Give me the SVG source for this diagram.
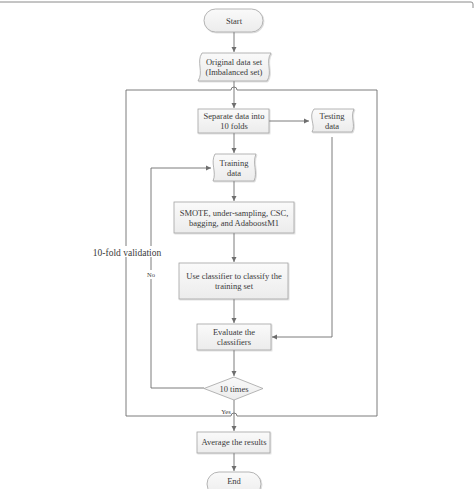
<svg xmlns="http://www.w3.org/2000/svg" width="475" height="489" viewBox="0 0 475 489">
<style>
.shape{fill:url(#g);stroke:#a3a3a3;stroke-width:0.8}
.ln{fill:none;stroke:#6e6e6e;stroke-width:0.9}
.t{font-family:"Liberation Serif","Times New Roman",serif;font-size:8.5px;fill:#3a3a3a;text-anchor:middle}
.sm{font-size:6.5px}
.lg{font-size:9.5px}
</style>
<defs>
<linearGradient id="g" x1="0" y1="0" x2="0" y2="1">
<stop offset="0" stop-color="#fafafa"/>
<stop offset="1" stop-color="#ececec"/>
</linearGradient>
<filter id="sh" x="-10%" y="-10%" width="130%" height="140%">
<feDropShadow dx="0.8" dy="0.8" stdDeviation="0.6" flood-color="#000" flood-opacity="0.18"/>
</filter>
<marker id="ah" markerWidth="6" markerHeight="6" refX="5" refY="3" orient="auto" markerUnits="userSpaceOnUse">
<path d="M0,0.5 L5,3 L0,5.5 z" fill="#6e6e6e"/>
</marker>
</defs>
<rect width="475" height="489" fill="#fff"/>
<path d="M0,2 H471 Q473,2 473,4 V8" fill="none" stroke="#8a8a8a" stroke-width="1"/>

<g id="connectors">
<path class="ln" d="M126,90 H231 A3,3 0 0 1 237,90 H377 V416 H237 A3,3 0 0 0 231,416 H126 Z"/>
<path class="ln" d="M234,32 V52" marker-end="url(#ah)"/>
<path class="ln" d="M234,81 V108" marker-end="url(#ah)"/>
<path class="ln" d="M269,121 H309" marker-end="url(#ah)"/>
<path class="ln" d="M234,133 V153" marker-end="url(#ah)"/>
<path class="ln" d="M234,181 V201" marker-end="url(#ah)"/>
<path class="ln" d="M234,233 V262" marker-end="url(#ah)"/>
<path class="ln" d="M234,299 V323" marker-end="url(#ah)"/>
<path class="ln" d="M332,137 V337 H272" marker-end="url(#ah)"/>
<path class="ln" d="M234,350 V376" marker-end="url(#ah)"/>
<path class="ln" d="M204,388 H151 V168 H211" marker-end="url(#ah)"/>
<path class="ln" d="M234,400 V431" marker-end="url(#ah)"/>
<path class="ln" d="M234,453 V471" marker-end="url(#ah)"/>
<rect x="144" y="270" width="14" height="9" fill="#fff"/>
<text class="t sm" x="151" y="277">No</text>
<rect x="95" y="246" width="64" height="11" fill="#fff"/>
<text class="t lg" x="127" y="256">10-fold validation</text>
<text class="t sm" x="226" y="414">Yes</text>
</g>

<g id="start">
<rect class="shape" x="204" y="9" width="59" height="23" rx="11.5" filter="url(#sh)"/>
<text class="t" x="234" y="24">Start</text>
</g>

<g id="original">
<path class="shape" filter="url(#sh)" d="M202,53 H271 C265,62 273,72 267,81 H198 C204,72 196,62 202,53 Z"/>
<text class="t" x="234" y="65">Original data set</text>
<text class="t" x="234" y="75">(Imbalanced set)</text>
</g>

<g id="separate">
<rect class="shape" x="198" y="109" width="71" height="24" filter="url(#sh)"/>
<text class="t" x="234" y="119">Separate data into</text>
<text class="t" x="234" y="129">10 folds</text>
</g>

<g id="testing">
<path class="shape" filter="url(#sh)" d="M314,109 H354 C350,117 356,125 352,132 H312 C316,125 308,117 314,109 Z"/>
<text class="t" x="332" y="119">Testing</text>
<text class="t" x="332" y="129">data</text>
</g>

<g id="training">
<path class="shape" filter="url(#sh)" d="M215,154 H256 C252,163 258,172 254,181 H213 C217,172 210,163 215,154 Z"/>
<text class="t" x="234" y="166">Training</text>
<text class="t" x="234" y="176">data</text>
</g>

<g id="smote">
<rect class="shape" x="174" y="202" width="120" height="31" filter="url(#sh)"/>
<text class="t" x="234" y="216">SMOTE, under-sampling, CSC,</text>
<text class="t" x="234" y="226">bagging, and AdaboostM1</text>
</g>

<g id="classify">
<rect class="shape" x="179" y="263" width="109" height="36" filter="url(#sh)"/>
<text class="t" x="234" y="279">Use classifier to classify the</text>
<text class="t" x="234" y="289">training set</text>
</g>

<g id="evaluate">
<rect class="shape" x="197" y="324" width="74" height="26" filter="url(#sh)"/>
<text class="t" x="234" y="335">Evaluate the</text>
<text class="t" x="234" y="345">classifiers</text>
</g>

<g id="decision">
<path class="shape" d="M234,377 L263,388.5 L234,400 L204,388.5 Z"/>
<text class="t" x="234" y="391.5">10 times</text>
</g>

<g id="average">
<rect class="shape" x="197" y="432" width="73" height="21" filter="url(#sh)"/>
<text class="t" x="234" y="445">Average the results</text>
</g>

<g id="end">
<rect class="shape" x="207" y="472" width="54" height="24" rx="12" filter="url(#sh)"/>
<text class="t" x="234" y="484">End</text>
</g>
</svg>
